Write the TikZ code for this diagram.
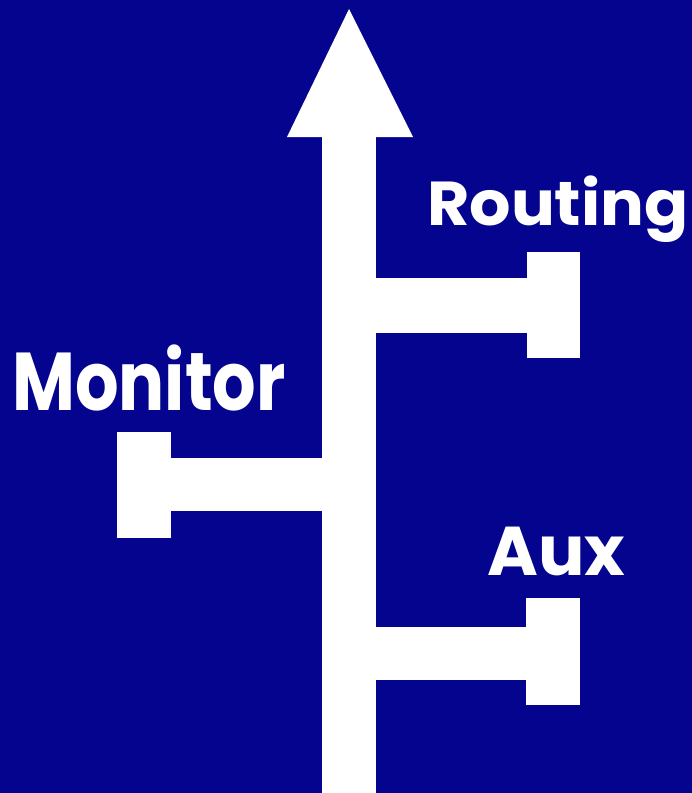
\documentclass[tikz,border=0pt]{standalone}
\usepackage{fontspec}
\setmainfont{Poppins}
\definecolor{bgblue}{RGB}{4,4,142}
\tikzset{
  shapefill/.style={fill=white,draw=none},
  lab/.style={anchor=base west,inner sep=0pt,text=white,font=\bfseries}
}
\begin{document}
\begin{tikzpicture}[x=1pt,y=-1pt]
\fill[bgblue] (0,0) rectangle (692,793);
\useasboundingbox (0,0) rectangle (692,793);
% arrow
\fill[shapefill] (287,137) -- (349,9) -- (413,137) -- cycle;
\fill[shapefill] (322,136) rectangle (376,793);
% Routing branch
\fill[shapefill] (375,278) rectangle (528,333);
\fill[shapefill] (527,252) rectangle (580,358);
% Monitor branch
\fill[shapefill] (170,458) rectangle (323,511);
\fill[shapefill] (117,432) rectangle (171,538);
% Aux branch
\fill[shapefill] (375,627) rectangle (527,680);
\fill[shapefill] (526,598) rectangle (580,705);
% labels
\node[lab,font=\bfseries\fontsize{82}{82}\selectfont] (monitor) at (12,410) {\scalebox{0.835}[1]{Monitor}};
\node[lab,font=\bfseries\fontsize{62}{62}\selectfont] (routing) at (427,225) {\scalebox{1.05}[1]{Routing}};
\node[lab,font=\bfseries\fontsize{69}{69}\selectfont] (aux) at (487,575) {Aux};
\end{tikzpicture}
\end{document}
